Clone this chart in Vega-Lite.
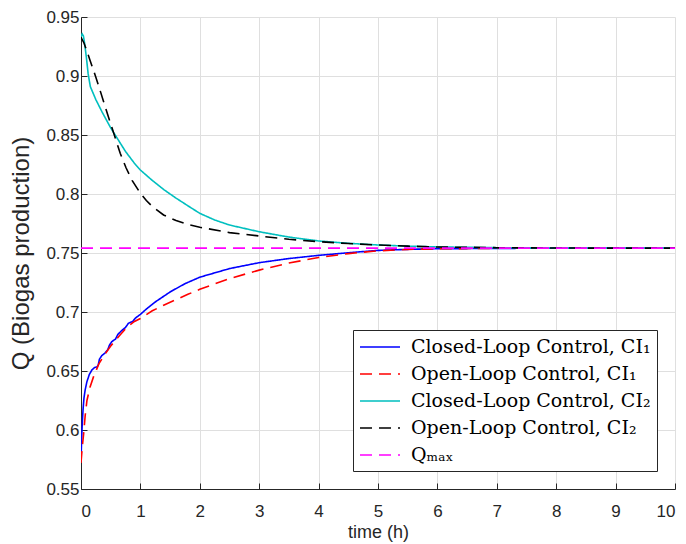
{
  "$schema": "https://vega.github.io/schema/vega-lite/v6.json",
  "width": 594,
  "height": 472,
  "autosize": {"type": "none"},
  "padding": {"left": 81, "top": 17, "right": 11, "bottom": 55},
  "background": "white",
  "datasets": {
    "curves": [
      {"s": "c1", "t": 0, "q": 0.573}, {"s": "c1", "t": 0.01, "q": 0.592}, {"s": "c1", "t": 0.02, "q": 0.604}, {"s": "c1", "t": 0.034, "q": 0.617}, {"s": "c1", "t": 0.05, "q": 0.627}, {"s": "c1", "t": 0.07, "q": 0.634}, {"s": "c1", "t": 0.1, "q": 0.641}, {"s": "c1", "t": 0.14, "q": 0.647}, {"s": "c1", "t": 0.185, "q": 0.651}, {"s": "c1", "t": 0.23, "q": 0.653}, {"s": "c1", "t": 0.27, "q": 0.6535}, {"s": "c1", "t": 0.29, "q": 0.655}, {"s": "c1", "t": 0.31, "q": 0.66}, {"s": "c1", "t": 0.35, "q": 0.663}, {"s": "c1", "t": 0.4, "q": 0.665}, {"s": "c1", "t": 0.45, "q": 0.668}, {"s": "c1", "t": 0.48, "q": 0.672}, {"s": "c1", "t": 0.52, "q": 0.675}, {"s": "c1", "t": 0.58, "q": 0.677}, {"s": "c1", "t": 0.62, "q": 0.681}, {"s": "c1", "t": 0.68, "q": 0.684}, {"s": "c1", "t": 0.75, "q": 0.687}, {"s": "c1", "t": 0.8, "q": 0.6905}, {"s": "c1", "t": 0.87, "q": 0.692}, {"s": "c1", "t": 0.92, "q": 0.695}, {"s": "c1", "t": 1.0, "q": 0.698}, {"s": "c1", "t": 1.1, "q": 0.7025}, {"s": "c1", "t": 1.25, "q": 0.7085}, {"s": "c1", "t": 1.5, "q": 0.717}, {"s": "c1", "t": 1.75, "q": 0.724}, {"s": "c1", "t": 2, "q": 0.7295}, {"s": "c1", "t": 2.5, "q": 0.7368}, {"s": "c1", "t": 3, "q": 0.7418}, {"s": "c1", "t": 3.5, "q": 0.7453}, {"s": "c1", "t": 4, "q": 0.748}, {"s": "c1", "t": 4.5, "q": 0.7502}, {"s": "c1", "t": 5, "q": 0.7522}, {"s": "c1", "t": 5.5, "q": 0.7531}, {"s": "c1", "t": 6, "q": 0.7536}, {"s": "c1", "t": 7, "q": 0.7539}, {"s": "c1", "t": 8, "q": 0.7541}, {"s": "c1", "t": 10, "q": 0.7541},
      {"s": "o1", "t": 0, "q": 0.572}, {"s": "o1", "t": 0.02, "q": 0.585}, {"s": "o1", "t": 0.045, "q": 0.597}, {"s": "o1", "t": 0.07, "q": 0.612}, {"s": "o1", "t": 0.1, "q": 0.625}, {"s": "o1", "t": 0.15, "q": 0.636}, {"s": "o1", "t": 0.21, "q": 0.645}, {"s": "o1", "t": 0.3, "q": 0.656}, {"s": "o1", "t": 0.4, "q": 0.664}, {"s": "o1", "t": 0.5, "q": 0.6712}, {"s": "o1", "t": 0.65, "q": 0.68}, {"s": "o1", "t": 0.78, "q": 0.6875}, {"s": "o1", "t": 0.9, "q": 0.692}, {"s": "o1", "t": 1.0, "q": 0.6945}, {"s": "o1", "t": 1.2, "q": 0.701}, {"s": "o1", "t": 1.4, "q": 0.706}, {"s": "o1", "t": 1.6, "q": 0.7105}, {"s": "o1", "t": 1.8, "q": 0.715}, {"s": "o1", "t": 2, "q": 0.7192}, {"s": "o1", "t": 2.5, "q": 0.7283}, {"s": "o1", "t": 3, "q": 0.7355}, {"s": "o1", "t": 3.5, "q": 0.7415}, {"s": "o1", "t": 4, "q": 0.7462}, {"s": "o1", "t": 4.5, "q": 0.7495}, {"s": "o1", "t": 5, "q": 0.7518}, {"s": "o1", "t": 5.5, "q": 0.753}, {"s": "o1", "t": 6, "q": 0.7536}, {"s": "o1", "t": 7, "q": 0.754}, {"s": "o1", "t": 8, "q": 0.7541}, {"s": "o1", "t": 10, "q": 0.7541},
      {"s": "c2", "t": 0, "q": 0.9333}, {"s": "c2", "t": 0.02, "q": 0.9356}, {"s": "c2", "t": 0.04, "q": 0.934}, {"s": "c2", "t": 0.06, "q": 0.928}, {"s": "c2", "t": 0.09, "q": 0.916}, {"s": "c2", "t": 0.12, "q": 0.902}, {"s": "c2", "t": 0.157, "q": 0.891}, {"s": "c2", "t": 0.25, "q": 0.88}, {"s": "c2", "t": 0.35, "q": 0.87}, {"s": "c2", "t": 0.5, "q": 0.856}, {"s": "c2", "t": 0.6, "q": 0.848}, {"s": "c2", "t": 0.75, "q": 0.836}, {"s": "c2", "t": 0.9, "q": 0.826}, {"s": "c2", "t": 1.0, "q": 0.8203}, {"s": "c2", "t": 1.2, "q": 0.8115}, {"s": "c2", "t": 1.4, "q": 0.8035}, {"s": "c2", "t": 1.6, "q": 0.7965}, {"s": "c2", "t": 1.8, "q": 0.79}, {"s": "c2", "t": 2, "q": 0.7836}, {"s": "c2", "t": 2.25, "q": 0.778}, {"s": "c2", "t": 2.5, "q": 0.7737}, {"s": "c2", "t": 3, "q": 0.768}, {"s": "c2", "t": 3.5, "q": 0.7635}, {"s": "c2", "t": 4, "q": 0.7602}, {"s": "c2", "t": 4.5, "q": 0.7582}, {"s": "c2", "t": 5, "q": 0.7568}, {"s": "c2", "t": 5.5, "q": 0.7558}, {"s": "c2", "t": 6, "q": 0.7551}, {"s": "c2", "t": 7, "q": 0.7545}, {"s": "c2", "t": 8, "q": 0.7542}, {"s": "c2", "t": 10, "q": 0.7541},
      {"s": "o2", "t": 0, "q": 0.9328}, {"s": "o2", "t": 0.05, "q": 0.928}, {"s": "o2", "t": 0.1, "q": 0.921}, {"s": "o2", "t": 0.15, "q": 0.9136}, {"s": "o2", "t": 0.25, "q": 0.899}, {"s": "o2", "t": 0.32, "q": 0.888}, {"s": "o2", "t": 0.4, "q": 0.875}, {"s": "o2", "t": 0.49, "q": 0.861}, {"s": "o2", "t": 0.58, "q": 0.847}, {"s": "o2", "t": 0.66, "q": 0.8345}, {"s": "o2", "t": 0.76, "q": 0.822}, {"s": "o2", "t": 0.86, "q": 0.8115}, {"s": "o2", "t": 1.0, "q": 0.8006}, {"s": "o2", "t": 1.1, "q": 0.7945}, {"s": "o2", "t": 1.2, "q": 0.7895}, {"s": "o2", "t": 1.39, "q": 0.7822}, {"s": "o2", "t": 1.6, "q": 0.7775}, {"s": "o2", "t": 1.8, "q": 0.7742}, {"s": "o2", "t": 2, "q": 0.7718}, {"s": "o2", "t": 2.5, "q": 0.7673}, {"s": "o2", "t": 3, "q": 0.7644}, {"s": "o2", "t": 3.5, "q": 0.7616}, {"s": "o2", "t": 4, "q": 0.7596}, {"s": "o2", "t": 4.5, "q": 0.758}, {"s": "o2", "t": 5, "q": 0.7568}, {"s": "o2", "t": 5.5, "q": 0.7558}, {"s": "o2", "t": 6, "q": 0.7551}, {"s": "o2", "t": 7, "q": 0.7545}, {"s": "o2", "t": 8, "q": 0.7542}, {"s": "o2", "t": 10, "q": 0.7541},
      {"s": "qm", "t": 0, "q": 0.7541}, {"s": "qm", "t": 10, "q": 0.7541}
    ]
  },
  "data": {"name": "curves"},
  "mark": {"type": "line", "strokeWidth": 1.6, "clip": true},
  "encoding": {
    "x": {
      "field": "t", "type": "quantitative",
      "scale": {"domain": [0, 10], "nice": false},
      "axis": {"title": "time (h)", "values": [0, 1, 2, 3, 4, 5, 6, 7, 8, 9, 10]}
    },
    "y": {
      "field": "q", "type": "quantitative",
      "scale": {"domain": [0.55, 0.95], "nice": false, "zero": false},
      "axis": {"title": "Q (Biogas production)", "values": [0.55, 0.6, 0.65, 0.7, 0.75, 0.8, 0.85, 0.9, 0.95], "format": ".2~f"}
    },
    "color": {
      "field": "s", "type": "nominal",
      "scale": {"domain": ["c1", "o1", "c2", "o2", "qm"], "range": ["#0000ff", "#ff0000", "#00bfbf", "#000000", "#ff00ff"]},
      "legend": {"title": null, "labelExpr": "datum.label == 'c1' ? 'Closed-Loop Control, CI₁' : datum.label == 'o1' ? 'Open-Loop Control, CI₁' : datum.label == 'c2' ? 'Closed-Loop Control, CI₂' : datum.label == 'o2' ? 'Open-Loop Control, CI₂' : 'Qₘₐₓ'"}
    },
    "strokeDash": {
      "field": "s", "type": "nominal",
      "scale": {"domain": ["c1", "o1", "c2", "o2", "qm"], "range": [[1, 0], [12, 7], [1, 0], [12, 7], [12, 7]]},
      "legend": {"title": null, "labelExpr": "datum.label == 'c1' ? 'Closed-Loop Control, CI₁' : datum.label == 'o1' ? 'Open-Loop Control, CI₁' : datum.label == 'c2' ? 'Closed-Loop Control, CI₂' : datum.label == 'o2' ? 'Open-Loop Control, CI₂' : 'Qₘₐₓ'"}
    }
  },
  "config": {
    "view": {"stroke": null},
    "axis": {
      "domainColor": "#262626", "domainWidth": 1,
      "tickColor": "#262626", "tickSize": -6, "tickWidth": 1,
      "gridColor": "#dfdfdf", "gridWidth": 1, "grid": true,
      "labelFont": "Liberation Sans", "labelFontSize": 17, "labelColor": "#262626",
      "titleFont": "Liberation Sans", "titleFontWeight": "normal", "titleColor": "#262626"
    },
    "axisX": {"labelPadding": 20, "titlePadding": 4, "titleFontSize": 18},
    "axisY": {"labelPadding": 8, "titlePadding": 12, "titleFontSize": 24},
    "legend": {
      "orient": "bottom-right", "offset": 18,
      "strokeColor": "#262626", "fillColor": "white", "padding": 6,
      "rowPadding": 6, "symbolType": "M-2,0L2,0", "symbolSize": 400, "symbolOffset": 10, "symbolStrokeWidth": 1.6,
      "labelFont": "DejaVu Serif", "labelFontSize": 19, "labelColor": "black",
      "labelOffset": 20, "labelLimit": 400, "cornerRadius": 0
    }
  }
}
